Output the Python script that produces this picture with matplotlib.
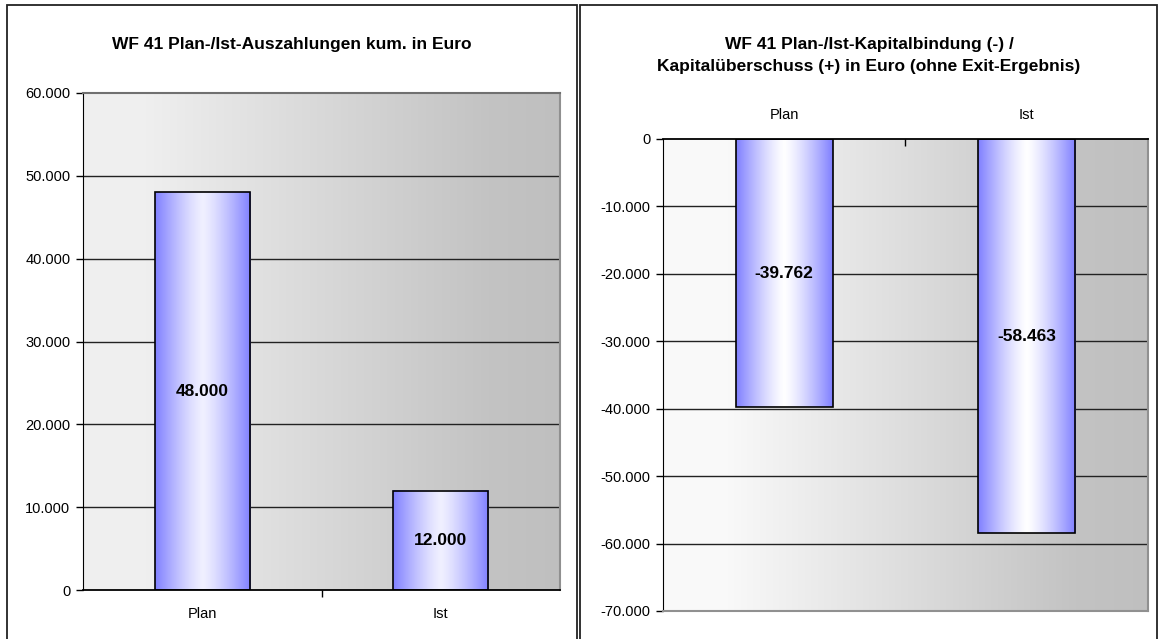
import numpy as np
import matplotlib.pyplot as plt
from matplotlib.patches import Rectangle
from matplotlib.ticker import FuncFormatter

plt.rcParams['font.family'] = ['Liberation Sans', 'DejaVu Sans']

# data
categories = ['Plan', 'Ist']
auszahlungen = [48000, 12000]
kapital = [-39762, -58463]
ticks_left = [0, 10000, 20000, 30000, 40000, 50000, 60000]
ticks_right = [0, -10000, -20000, -30000, -40000, -50000, -60000, -70000]

title_left = 'WF 41 Plan-/Ist-Auszahlungen kum. in Euro'
title_right = 'WF 41 Plan-/Ist-Kapitalbindung (-) /\nKapitalüberschuss (+) in Euro (ohne Exit-Ergebnis)'


def fmt_de(v, pos=None):
    s = f'{abs(int(round(v))):,}'.replace(',', '.')
    return '-' + s if v < 0 else s


def bg_gradient(ax, light):
    # grey fill getting darker to the right
    x = np.linspace(0, 1, 256)
    g = np.interp(x, [0, 0.12, 0.85, 1], [light, light, 0.765, 0.75])
    img = np.dstack([g, g, g])
    ax.imshow(img, extent=(0, 1, 0, 1), transform=ax.transAxes, aspect='auto',
              zorder=0, interpolation='bilinear')


def bar_gradient(ax, bars, center):
    # blue "cylinder" shading across each bar
    x = np.linspace(0, 1, 200)
    t = np.abs(x - 0.5) * 2
    edge = np.array([0.5, 0.5, 1.0])
    cols = np.array(center) + (edge - np.array(center)) * (t[:, None] ** 1.3)
    img = cols[None, :, :]
    for b in bars:
        x0, y0 = b.get_x(), b.get_y()
        ax.imshow(img, extent=(x0, x0 + b.get_width(), y0, y0 + b.get_height()),
                  aspect='auto', zorder=2, interpolation='bilinear')


def style_axes(ax, ticks, lim):
    ax.set_xlim(-0.5, 1.5)
    ax.set_ylim(*lim)
    ax.set_yticks(ticks)
    ax.yaxis.set_major_formatter(FuncFormatter(fmt_de))
    ax.tick_params(axis='y', length=5, width=1, pad=4, labelsize=10.5, colors='black')
    for t in ticks:
        if t not in lim:
            ax.axhline(t, color='#222222', lw=1.0, zorder=1)
    ax.set_xticks([0.5])
    ax.set_xticklabels([])
    ax.set_xticks([0, 1], minor=True)
    ax.set_xticklabels(categories, minor=True)
    ax.tick_params(axis='x', which='minor', length=0, pad=12, labelsize=10.5)


fig = plt.figure(figsize=(11.6, 6.39), dpi=100)

# panel frames
for x0, x1 in [(7, 577), (580, 1157)]:
    fig.patches.append(Rectangle((x0 / 1160, -0.02), (x1 - x0) / 1160, 1 - 5 / 639 + 0.02,
                                 transform=fig.transFigure, figure=fig, fill=False,
                                 edgecolor='#222222', lw=1.3))

# left chart: cumulative payouts
ax1 = fig.add_axes([83 / 1160, 1 - 590 / 639, 477 / 1160, 497 / 639])
bg_gradient(ax1, 0.94)
bars1 = ax1.bar(range(len(categories)), auszahlungen, width=0.4, facecolor='none',
                edgecolor='black', lw=1.2, zorder=3)
bar_gradient(ax1, bars1, [0.94, 0.94, 1.0])
for i, v in enumerate(auszahlungen):
    ax1.text(i, v / 2, fmt_de(v), ha='center', va='center', fontsize=12.5,
             fontweight='bold', zorder=4)
style_axes(ax1, ticks_left, (0, 60000))
ax1.tick_params(axis='x', which='major', length=5, width=1, direction='out')
ax1.spines['left'].set_color('black')
ax1.spines['bottom'].set_color('black')
ax1.spines['bottom'].set_linewidth(1.3)
ax1.spines['top'].set_color('#707070')
ax1.spines['top'].set_linewidth(1.5)
ax1.spines['right'].set_color('#909090')
ax1.spines['right'].set_linewidth(1.5)
fig.text(292 / 1160, 1 - 45 / 639, title_left, ha='center', va='center',
         fontsize=12.5, fontweight='bold')

# right chart: capital tied up / surplus
ax2 = fig.add_axes([663 / 1160, 1 - 611 / 639, 485 / 1160, 472 / 639])
bg_gradient(ax2, 0.98)
bars2 = ax2.bar(range(len(categories)), kapital, width=0.4, facecolor='none',
                edgecolor='black', lw=1.2, zorder=3)
bar_gradient(ax2, bars2, [1.0, 1.0, 1.0])
for i, v in enumerate(kapital):
    ax2.text(i, v / 2, fmt_de(v), ha='center', va='center', fontsize=12.5,
             fontweight='bold', zorder=4)
style_axes(ax2, ticks_right, (-70000, 0))
ax2.xaxis.tick_top()
ax2.tick_params(axis='x', which='major', length=5, width=1, direction='in')
ax2.tick_params(axis='x', which='minor', labeltop=True, labelbottom=False)
ax2.spines['left'].set_color('black')
ax2.spines['top'].set_color('black')
ax2.spines['top'].set_linewidth(1.3)
ax2.spines['bottom'].set_color('#909090')
ax2.spines['bottom'].set_linewidth(1.5)
ax2.spines['right'].set_color('#909090')
ax2.spines['right'].set_linewidth(1.5)
fig.text(869 / 1160, 1 - 55.5 / 639, title_right, ha='center', va='center',
         fontsize=12.5, fontweight='bold', linespacing=1.6)

fig.savefig('out.png', dpi=100)
